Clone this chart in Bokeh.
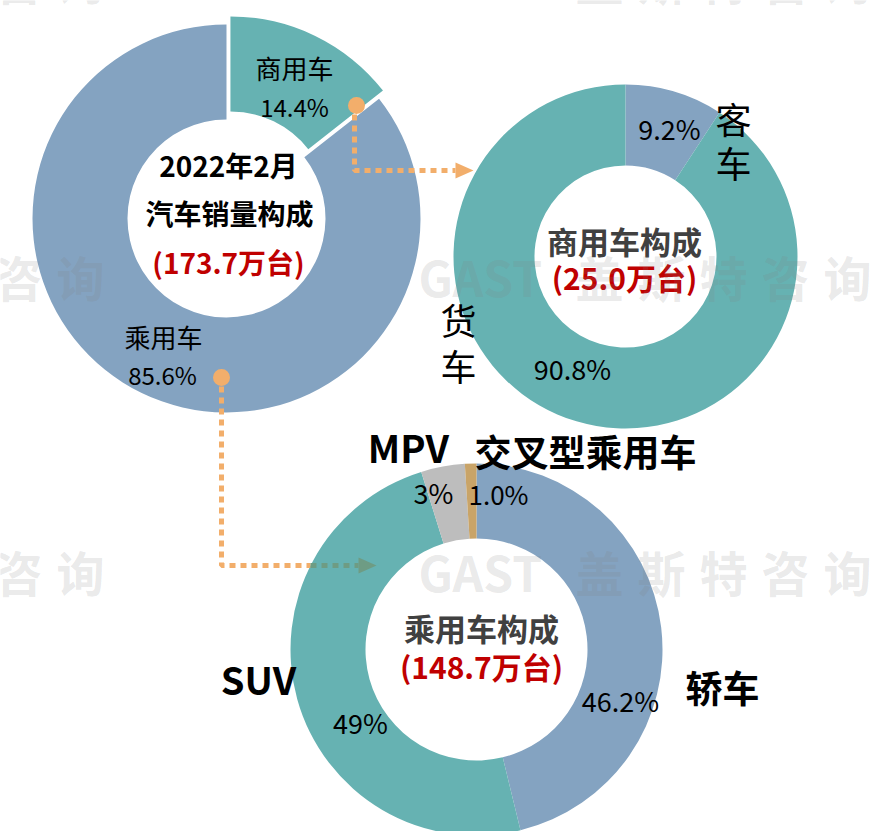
import numpy as np
from bokeh.plotting import figure
from bokeh.models import Range1d, ColumnDataSource
from bokeh.core.properties import value
from bokeh.embed import file_html
from bokeh.resources import INLINE

# ---------------- data ----------------
total_categories = ["商用车", "乘用车"]
total_shares = [14.4, 85.6]
total_labels = ["14.4%", "85.6%"]
total_title = ["2022年2月", "汽车销量构成"]
total_amount = "(173.7万台)"

cv_categories = ["客车", "货车"]
cv_shares = [9.2, 90.8]
cv_labels = ["9.2%", "90.8%"]
cv_title = "商用车构成"
cv_amount = "(25.0万台)"

pv_categories = ["轿车", "SUV", "MPV", "交叉型乘用车"]
pv_shares = [46.2, 49.0, 3.8, 1.0]
pv_labels = ["46.2%", "49%", "3%", "1.0%"]
pv_title = "乘用车构成"
pv_amount = "(148.7万台)"

watermark_latin = "GAST"
watermark_cjk = ["盖", "斯", "特", "咨", "询"]

# ---------------- style ----------------
W, H = 874, 831
FONT = "Noto Sans CJK SC"
BLUE = "#84A3C1"
TEAL = "#66B2B2"
GRAY = "#BDBDBD"
TAN = "#C9A468"
ORANGE = "#F2AE6B"
DARKTEAL = "#6E9C84"
RED = "#C00000"
DARK = "#404040"


def Y(py):
    return H - py


p = figure(width=W, height=H, x_range=Range1d(0, W), y_range=Range1d(0, H),
           output_backend="svg", toolbar_location=None,
           x_axis_location=None, y_axis_location=None, min_border=0)
p.xgrid.grid_line_color = None
p.ygrid.grid_line_color = None
p.outline_line_color = None
p.background_fill_color = "white"
p.border_fill_color = "white"


def donut(cx, cy, r_in, r_out, shares, colors, explode=None):
    v = np.asarray(shares, dtype=float)
    frac = v / v.sum()
    c1 = np.cumsum(frac)
    c0 = c1 - frac
    start = np.pi / 2 - 2 * np.pi * c0
    end = np.pi / 2 - 2 * np.pi * c1
    mid = (start + end) / 2
    ex = np.zeros(len(v)) if explode is None else np.asarray(explode, dtype=float)
    src = ColumnDataSource(dict(
        x=cx + ex * np.cos(mid), y=Y(cy) + ex * np.sin(mid),
        start=start, end=end, color=colors))
    p.annular_wedge(x="x", y="y", inner_radius=r_in, outer_radius=r_out,
                    start_angle="start", end_angle="end", direction="clock",
                    fill_color="color", line_color=None, source=src)


def txt(x, y, s, size, color="black", bold=False, align="center", alpha=1.0):
    p.text(x=[x], y=[Y(y)], text=[s], text_font=value(FONT),
           text_font_size=f"{size}px", text_color=color, text_alpha=alpha,
           text_font_style="bold" if bold else "normal",
           text_align=align, text_baseline="middle")


# ---------------- donuts ----------------
donut(226, 218, 99, 194, total_shares, [TEAL, BLUE], explode=[9, 0])
donut(625, 256, 91, 172, cv_shares, [BLUE, TEAL])
donut(476, 649, 111, 186, pv_shares, [BLUE, TEAL, GRAY, TAN])

# ---------------- connectors ----------------
dash = dict(line_width=5, line_dash="6 5", line_cap="butt")
p.line(x=[354, 354, 455], y=[Y(114), Y(170), Y(170)], line_color=ORANGE, **dash)
p.patch(x=[455, 473, 455], y=[Y(162), Y(170), Y(178)], fill_color=ORANGE, line_color=None)
p.line(x=[221, 221, 310], y=[Y(386), Y(565), Y(565)], line_color=ORANGE, **dash)
p.line(x=[310, 358], y=[Y(565), Y(565)], line_color=DARKTEAL, **dash)
p.patch(x=[358, 376, 358], y=[Y(557), Y(565), Y(573)], fill_color=DARKTEAL, line_color=None)
p.scatter(x=[356, 221], y=[Y(105), Y(377)], size=17, marker="circle",
          fill_color=ORANGE, line_color=None)

# ---------------- chart 1 texts ----------------
txt(228, 164, total_title[0], 28, bold=True)
txt(229, 212, total_title[1], 28, bold=True)
txt(228, 261, total_amount, 28, color=RED, bold=True)
txt(294, 67, total_categories[0], 26)
txt(294, 106, total_labels[0], 24)
txt(163, 336, total_categories[1], 26)
txt(162, 374, total_labels[1], 24)

# ---------------- chart 2 texts ----------------
txt(624, 240, cv_title, 31, color=DARK, bold=True)
txt(624, 276, cv_amount, 30, color=RED, bold=True)
txt(669, 128, cv_labels[0], 27)
txt(572, 368, cv_labels[1], 27)
txt(733, 117, cv_categories[0][0], 36)
txt(733, 161, cv_categories[0][1], 36)
txt(458, 318, cv_categories[1][0], 36)
txt(458, 364, cv_categories[1][1], 36)

# ---------------- chart 3 texts ----------------
txt(481, 627, pv_title, 31, color=DARK, bold=True)
txt(481, 665, pv_amount, 30, color=RED, bold=True)
txt(408, 446, pv_categories[2], 38, bold=True)
txt(585, 450, pv_categories[3], 37, bold=True)
txt(433, 492, pv_labels[2], 27)
txt(498, 493, pv_labels[3], 26)
txt(258, 678, pv_categories[1], 38, bold=True)
txt(722, 686, pv_categories[0], 37, bold=True)
txt(620, 700, pv_labels[0], 27)
txt(360, 722, pv_labels[1], 27)

# ---------------- watermark (tiled, only the pieces inside the page) ----------------
for row_y in [-22, 275, 570]:
    for off in [0, -767]:
        gx = 418 + off
        if gx >= 0 and row_y > 0:
            txt(gx, row_y, watermark_latin, 48, color="#808080", bold=True,
                align="left", alpha=0.18)
        for i, ch in enumerate(watermark_cjk):
            cx = 599 + off + 62 * i
            if -10 < cx < W + 10:
                txt(cx, row_y, ch, 48, color="#808080", bold=True, alpha=0.18)

open("out.html", "w").write(file_html(p, INLINE))
